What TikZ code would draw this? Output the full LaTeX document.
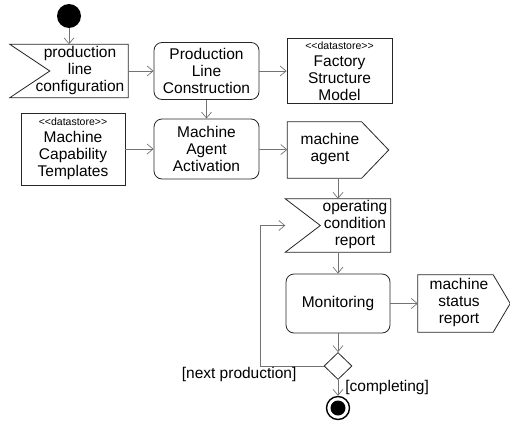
\documentclass[tikz,border=0pt]{standalone}
\usepackage{fontspec}
\setmainfont{Liberation Sans}
\usetikzlibrary{arrows.meta,positioning,shapes.geometric}
\newcommand{\stereo}[1]{{\fontsize{10.5}{11}\selectfont #1}}
% text block moved right (\padl) or left (\padr) inside its box
\newcommand{\padl}[2]{\hspace*{#1}\begin{tabular}{@{}c@{}}#2\end{tabular}}
\newcommand{\padr}[2]{\begin{tabular}{@{}c@{}}#2\end{tabular}\hspace*{#1}}

\begin{document}
\begin{tikzpicture}[x=1pt, y=1pt,
  every node/.style={font=\fontsize{15.5}{17}\selectfont, align=center, inner sep=1pt},
  outline/.style={draw=black!85, line width=0.8pt},
  action/.style={rectangle, outline, rounded corners=8pt,
    minimum width=105pt, minimum height=58pt},
  store/.style={rectangle, outline, minimum width=105pt},
  sendsig/.style={rectangle, append after command={\pgfextra{\let\sigbox\tikzlastnode
    \draw[outline, line join=miter] (\sigbox.north west) -- ([xshift=-#1]\sigbox.north east)
      -- (\sigbox.east) -- ([xshift=-#1]\sigbox.south east) -- (\sigbox.south west) -- cycle;}}},
  acceptsig/.style={rectangle, append after command={\pgfextra{\let\sigbox\tikzlastnode
    \draw[outline, line join=miter] (\sigbox.north west) -- (\sigbox.north east)
      -- (\sigbox.south east) -- (\sigbox.south west) -- ([xshift=#1]\sigbox.west) -- cycle;}}},
  flow/.style={-{Straight Barb[length=6pt,width=10pt]}, draw=black!55, line width=0.7pt}
]
  \useasboundingbox (0,0) rectangle (510,-423);

  % first row: configuration, construction, factory model
  \node[circle, fill=black, minimum size=24pt, inner sep=0pt] (start) at (69,-16) {};
  \node[acceptsig=40pt, minimum width=118pt, minimum height=52pt]
    (conf) at (69,-71) {\padl{22pt}{production\\line\\configuration}};
  \node[action, minimum height=57pt] (build) at (206.5,-71) {Production\\Line\\Construction};
  \node[store, minimum height=65pt] (factory) at (339.5,-71)
    {\stereo{<{}<datastore>{}>}\\Factory\\Structure\\Model};

  % second row: templates, activation, agent
  \node[store, minimum width=104pt, minimum height=72pt] (templates) at (73,-149)
    {\stereo{<{}<datastore>{}>}\\Machine\\Capability\\Templates};
  \node[action, minimum height=60pt] (activate) at (206.5,-149) {Machine\\Agent\\Activation};
  \node[sendsig=27pt, minimum width=101pt, minimum height=56pt]
    (agent) at (338,-150) {\padr{16pt}{machine\\agent}};

  % monitoring loop
  \node[acceptsig=35pt, minimum width=105pt, minimum height=53pt]
    (cond) at (338,-225.5) {\padl{34pt}{operating\\condition\\report}};
  \node[action, minimum width=104pt, minimum height=59pt] (monitor) at (338,-303.5) {Monitoring};
  \node[sendsig=17pt, minimum width=92pt, minimum height=57pt]
    (status) at (464,-303.5) {\padr{10pt}{machine\\status\\report}};
  \node[diamond, outline, minimum width=28pt, minimum height=27pt,
    inner sep=0pt] (choice) at (338,-366) {};
  \node[circle, draw=black, line width=1.4pt, minimum size=23pt, inner sep=0pt,
    path picture={\fill (path picture bounding box.center) circle (7.5pt);}]
    (stop) at (338,-408) {};

  \draw[flow] (start) -- (conf);
  \draw[flow] (conf) -- (build);
  \draw[flow] (build) -- (factory);
  \draw[flow] (build) -- (activate);
  \draw[flow] (templates) -- (activate);
  \draw[flow] (activate) -- (agent);
  \draw[flow] (agent) -- (cond);
  \draw[flow] (cond) -- (monitor);
  \draw[flow] (monitor) -- (status);
  \draw[flow] (monitor) -- (choice);
  \draw[flow] (choice) -- node[right=6pt, pos=0.45] {[completing]} (stop);
  \draw[flow] (choice.west) -- node[pos=0.41, anchor=north east] {[next production]}
    ++(-63,0) |- (cond.west);
\end{tikzpicture}
\end{document}
